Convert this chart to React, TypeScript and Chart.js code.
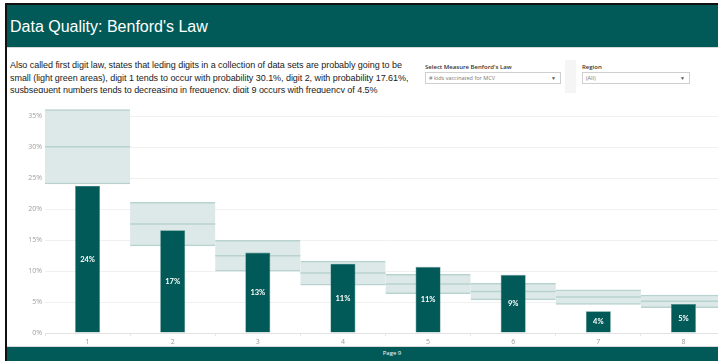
import React, { useEffect, useRef } from "react";
import { Chart, registerables } from "chart.js";

Chart.register(...registerables);

// ---- data ----
const digits = ["1", "2", "3", "4", "5", "6", "7", "8"];
const observedPct = [23.8, 16.6, 13.0, 11.2, 10.7, 9.4, 3.5, 4.7];
const benfordPct = [30.1, 17.61, 12.49, 9.69, 7.92, 6.69, 5.8, 5.12];
const bandLowPct = [24.08, 14.09, 9.99, 7.75, 6.34, 5.35, 4.64, 4.1];
const bandHighPct = [36.12, 21.13, 14.99, 11.63, 9.5, 8.03, 6.96, 6.14];
const yTickValues = [0, 5, 10, 15, 20, 25, 30, 35];

const TEAL = "#015a58";
const BAND_FILL = "#dde9e8";
const BAND_LINE = "#b7d2cf";

const bandPlugin = {
  id: "bandMidAndLabels",
  afterDatasetDraw(chart: any, args: any) {
    if (args.index !== 0) return;
    const { ctx } = chart;
    const y = chart.scales.y;
    const meta = chart.getDatasetMeta(0);
    ctx.save();
    ctx.strokeStyle = BAND_LINE;
    ctx.lineWidth = 1.5;
    meta.data.forEach((el: any, i: number) => {
      const p = el.getProps(["x", "width"], true);
      const yy = y.getPixelForValue(benfordPct[i]);
      ctx.beginPath();
      ctx.moveTo(p.x - p.width / 2, yy);
      ctx.lineTo(p.x + p.width / 2, yy);
      ctx.stroke();
    });
    ctx.restore();
  },
  afterDatasetsDraw(chart: any) {
    const { ctx } = chart;
    const meta = chart.getDatasetMeta(1);
    ctx.save();
    ctx.fillStyle = "#ffffff";
    ctx.font = "bold 7.5px Lato, 'Open Sans', sans-serif";
    ctx.textAlign = "center";
    ctx.textBaseline = "middle";
    meta.data.forEach((el: any, i: number) => {
      const p = el.getProps(["x", "y", "base"], true);
      ctx.fillText(Math.round(observedPct[i]) + "%", p.x, (p.y + p.base) / 2);
    });
    ctx.restore();
  },
};

function BenfordChart() {
  const ref = useRef<HTMLCanvasElement | null>(null);
  useEffect(() => {
    if (!ref.current) return;
    const chart = new Chart(ref.current, {
      type: "bar",
      data: {
        labels: digits,
        datasets: [
          {
            label: "Expected range",
            data: digits.map((_, i) => [bandLowPct[i], bandHighPct[i]]) as any,
            backgroundColor: BAND_FILL,
            borderColor: BAND_LINE,
            borderWidth: { top: 1.5, bottom: 1.5, left: 0, right: 0 } as any,
            borderSkipped: false,
            barPercentage: 1,
            categoryPercentage: 1,
            grouped: false,
            order: 2,
          },
          {
            label: "Observed",
            data: observedPct,
            backgroundColor: TEAL,
            borderColor: "#4d8c8a",
            borderWidth: 0.6,
            borderSkipped: false,
            barPercentage: 0.294,
            categoryPercentage: 1,
            grouped: false,
            order: 1,
          },
        ],
      },
      options: {
        responsive: false,
        maintainAspectRatio: false,
        animation: false,
        devicePixelRatio: 1,
        layout: { padding: { top: 4, left: 0, right: 0, bottom: 0 } },
        plugins: { legend: { display: false }, tooltip: { enabled: false } },
        scales: {
          x: {
            grid: {
              display: true,
              drawOnChartArea: false,
              offset: true,
              tickLength: 3,
              color: "#e6e6e6",
            },
            border: { display: true, color: "#e2e2e2" },
            ticks: {
              color: "#9a9a9a",
              font: { size: 7, family: "'Open Sans', sans-serif" },
              padding: 2,
            },
            afterFit: (s: any) => {
              s.height = 14;
            },
          },
          y: {
            min: 0,
            max: 36.5,
            grid: { color: "#f0f0f0", drawTicks: false },
            border: { display: false },
            ticks: {
              stepSize: 5,
              color: "#a0a0a0",
              font: { size: 7, family: "'Open Sans', sans-serif" },
              padding: 3,
              callback: (v: any) => v + "%",
            },
            afterBuildTicks: (s: any) => {
              s.ticks = yTickValues.map((v) => ({ value: v }));
            },
            afterFit: (s: any) => {
              s.width = 45;
            },
          },
        },
      },
      plugins: [bandPlugin],
    });
    return () => chart.destroy();
  }, []);
  return (
    <canvas
      ref={ref}
      width={726}
      height={247}
      style={{ position: "absolute", left: 0, top: 100, width: 726, height: 247 }}
    />
  );
}

const dropBox: React.CSSProperties = {
  position: "absolute",
  top: 72,
  height: 10,
  border: "1px solid #cfcfcf",
  background: "#fff",
  fontFamily: "'Open Sans', sans-serif",
  fontSize: 5.5,
  color: "#777",
  lineHeight: "10px",
  paddingLeft: 3,
  boxSizing: "content-box",
};
const filterLabel: React.CSSProperties = {
  position: "absolute",
  top: 63,
  fontFamily: "'Open Sans', sans-serif",
  fontSize: 6,
  fontWeight: 600,
  color: "#333",
  whiteSpace: "nowrap",
};

export default function App() {
  return (
    <div
      style={{
        position: "fixed",
        left: 0,
        top: 0,
        width: 718,
        height: 361,
        overflow: "hidden",
        background: "#fff",
      }}
    >
      {/* black frame */}
      <div style={{ position: "absolute", left: 5, top: 3, width: 713, height: 2, background: "#111" }} />
      <div style={{ position: "absolute", left: 5, top: 3, width: 2, height: 358, background: "#111" }} />
      {/* header */}
      <div style={{ position: "absolute", left: 7, top: 5, width: 711, height: 42, background: TEAL }} />
      <div style={{ position: "absolute", left: 7, top: 47, width: 711, height: 1, background: "#d9d9d9" }} />
      <div
        style={{
          position: "absolute",
          left: 10,
          top: 18,
          fontFamily: "'Liberation Sans', Arial, sans-serif",
          fontSize: 16,
          color: "#fff",
          whiteSpace: "nowrap",
        }}
      >
        Data Quality: Benford's Law
      </div>
      {/* description */}
      <div
        style={{
          position: "absolute",
          left: 10,
          top: 59,
          width: 412,
          height: 34,
          overflow: "hidden",
          fontFamily: "'Liberation Sans', Arial, sans-serif",
          fontSize: 9,
          letterSpacing: -0.05,
          lineHeight: "12.5px",
          color: "#1a1a1a",
          whiteSpace: "nowrap",
        }}
      >
        Also called first digit law, states that leding digits in a collection of data sets are probably going to be
        <br />
        small (light green areas), digit 1 tends to occur with probability 30.1%, digit 2, with probability 17.61%,
        <br />
        susbsequent numbers tends to decreasing in frequency, digit 9 occurs with frequency of 4.5%
      </div>
      {/* filters */}
      <div style={{ ...filterLabel, left: 425 }}>Select Measure Benford's Law</div>
      <div style={{ ...dropBox, left: 425, width: 131 }}>
        # kids vaccinated for MCV
        <span style={{ position: "absolute", right: 4, top: 0, fontSize: 5, color: "#555" }}>▼</span>
      </div>
      <div style={{ position: "absolute", left: 565, top: 60, width: 11, height: 33, background: "#f5f5f5" }} />
      <div style={{ ...filterLabel, left: 582 }}>Region</div>
      <div style={{ ...dropBox, left: 582, width: 103 }}>
        (All)
        <span style={{ position: "absolute", right: 4, top: 0, fontSize: 5, color: "#555" }}>▼</span>
      </div>
      {/* chart */}
      <BenfordChart />
      {/* footer */}
      <div style={{ position: "absolute", left: 7, top: 346, width: 711, height: 1, background: "#d9d9d9" }} />
      <div style={{ position: "absolute", left: 7, top: 347, width: 711, height: 14, background: TEAL }} />
      <div
        style={{
          position: "absolute",
          left: 342,
          top: 349,
          width: 100,
          textAlign: "center",
          fontFamily: "'Open Sans', sans-serif",
          fontSize: 6,
          color: "#fff",
        }}
      >
        Page 9
      </div>
    </div>
  );
}
